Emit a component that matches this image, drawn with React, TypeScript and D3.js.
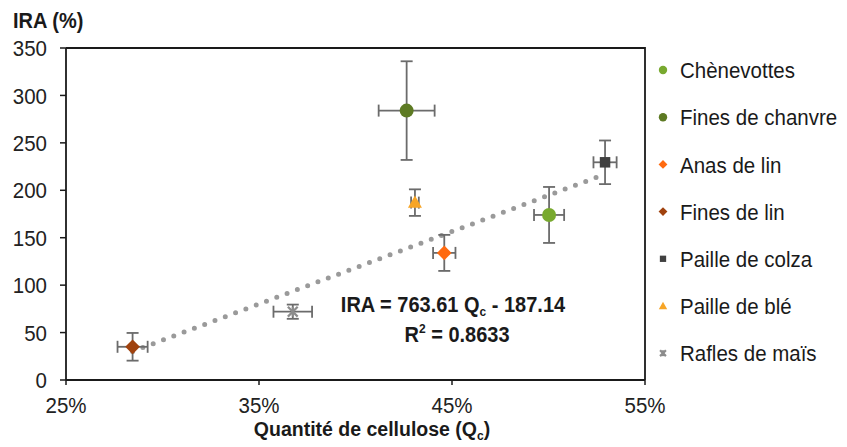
import React from "react";
import * as d3 from "d3";

const seriesNames = ["Chènevottes", "Fines de chanvre", "Anas de lin", "Fines de lin", "Paille de colza", "Paille de blé", "Rafles de maïs"];
const seriesColors = ["#78A92F", "#5D7A23", "#FF6A10", "#A0420E", "#404040", "#F7A526", "#8C8C8C"];
const seriesShapes = ["circle", "circle", "diamond", "diamond", "square", "triangle", "star"];
const qcValues = [0.5003, 0.4265, 0.4460, 0.2845, 0.5293, 0.4308, 0.3675];
const iraValues = [174, 284, 134, 35, 229.5, 187, 72];
const qcErrors = [0.0078, 0.0145, 0.0058, 0.0078, 0.0060, 0.0020, 0.0100];
const iraErrors = [29.5, 52, 19, 14.6, 23, 14, 7.5];
const xTicks = [0.25, 0.35, 0.45, 0.55];
const yTicks = [0, 50, 100, 150, 200, 250, 300, 350];
const slope = 763.61;
const intercept = -187.14;

const W = 847, H = 447;
const FONT = "'Liberation Sans', Arial, sans-serif";
const SY = 1.1;

function T({ x, y, children, sy = SY, ...rest }: any) {
  return (
    <text transform={`translate(${x},${y}) scale(1,${sy})`} {...rest}>
      {children}
    </text>
  );
}

function Marker({ shape, color, cx, cy, s }: { shape: string; color: string; cx: number; cy: number; s: number }) {
  if (shape === "circle") return <circle cx={cx} cy={cy} r={s} fill={color} />;
  if (shape === "diamond") {
    const d = s * 1.05;
    return <path d={`M${cx},${cy - d}L${cx + d},${cy}L${cx},${cy + d}L${cx - d},${cy}Z`} fill={color} />;
  }
  if (shape === "square") {
    const d = s * 0.75;
    return <rect x={cx - d} y={cy - d} width={2 * d} height={2 * d} fill={color} />;
  }
  if (shape === "triangle") {
    const d = s;
    return <path d={`M${cx},${cy - d}L${cx + d},${cy + d * 0.75}L${cx - d},${cy + d * 0.75}Z`} fill={color} />;
  }
  const d = s * 0.7;
  return (
    <g stroke={color} strokeWidth={2.2}>
      <line x1={cx - d} y1={cy - d} x2={cx + d} y2={cy + d} />
      <line x1={cx - d} y1={cy + d} x2={cx + d} y2={cy - d} />
      <line x1={cx} y1={cy - d} x2={cx} y2={cy + d} />
    </g>
  );
}

export default function App() {
  const x = d3.scaleLinear().domain([0.25, 0.55]).range([66, 645]);
  const y = d3.scaleLinear().domain([0, 350]).range([380, 48]);
  const xMin = d3.min(qcValues) as number;
  const xMax = d3.max(qcValues) as number;
  const trend = d3.line<number>().x((d) => x(d)).y((d) => y(slope * d + intercept));
  const errColor = "#6b6b6b";
  const cap = 6;

  return (
    <svg width={W} height={H} style={{ display: "block", position: "absolute", left: 0, top: 0 }} fontFamily={FONT}>
      <rect width={W} height={H} fill="#fff" />
      {/* plot frame */}
      <path d={`M${x(0.25)},${y(350)}H${x(0.55)}V${y(0)}`} fill="none" stroke="#1a1a1a" strokeWidth={1.8} />
      <line x1={x(0.25)} x2={x(0.25)} y1={y(350)} y2={y(0)} stroke="#1a1a1a" strokeWidth={1.8} />
      <line x1={x(0.25)} x2={x(0.55)} y1={y(0)} y2={y(0)} stroke="#1a1a1a" strokeWidth={1.8} />
      {yTicks.map((t) => (
        <g key={"y" + t}>
          <line x1={x(0.25) - 6} x2={x(0.25)} y1={y(t)} y2={y(t)} stroke="#1a1a1a" strokeWidth={1.5} />
          <T x={47} y={y(t)} dy="0.36em" textAnchor="end" fontSize={20.5} fill="#222">{t}</T>
        </g>
      ))}
      {xTicks.map((t) => (
        <g key={"x" + t}>
          <line x1={x(t)} x2={x(t)} y1={y(0)} y2={y(0) + 5} stroke="#1a1a1a" strokeWidth={1.5} />
          <T x={x(t)} y={413} sy={1.05} textAnchor="middle" fontSize={20.5} fill="#222">{d3.format(".0%")(t)}</T>
        </g>
      ))}
      <T x={13} y={28} fontSize={20} fontWeight="bold" fill="#1a1a1a">IRA (%)</T>
      <T x={372} y={436} sy={1} textAnchor="middle" fontSize={19.5} fontWeight="bold" fill="#1a1a1a">
        Quantité de cellulose (Q<tspan fontSize={12} dy={4}>c</tspan><tspan dy={-4}>)</tspan>
      </T>
      {/* trendline */}
      <path d={trend([xMin, xMax]) || ""} fill="none" stroke="#9a9a9a" strokeWidth={5} strokeLinecap="round" strokeDasharray="0 11" />
      {/* error bars */}
      {qcValues.map((q, i) => {
        const cx = x(q), cy = y(iraValues[i]);
        const y1 = y(iraValues[i] + iraErrors[i]), y2 = y(iraValues[i] - iraErrors[i]);
        const x1 = x(q - qcErrors[i]), x2 = x(q + qcErrors[i]);
        return (
          <g key={"e" + i} stroke={errColor} strokeWidth={1.8}>
            <line x1={cx} x2={cx} y1={y1} y2={y2} />
            <line x1={cx - cap} x2={cx + cap} y1={y1} y2={y1} />
            <line x1={cx - cap} x2={cx + cap} y1={y2} y2={y2} />
            <line x1={x1} x2={x2} y1={cy} y2={cy} />
            <line x1={x1} x2={x1} y1={cy - cap} y2={cy + cap} />
            <line x1={x2} x2={x2} y1={cy - cap} y2={cy + cap} />
          </g>
        );
      })}
      {qcValues.map((q, i) => (
        <Marker key={"m" + i} shape={seriesShapes[i]} color={seriesColors[i]} cx={x(q)} cy={y(iraValues[i])} s={7} />
      ))}
      {/* equation */}
      <T x={453} y={312} textAnchor="middle" fontSize={20} fontWeight="bold" fill="#1a1a1a">
        IRA = 763.61 Q<tspan fontSize={12} dy={4}>c</tspan><tspan dy={-4}> - 187.14</tspan>
      </T>
      <T x={457} y={342} textAnchor="middle" fontSize={20} fontWeight="bold" fill="#1a1a1a">
        R<tspan fontSize={12} dy={-8}>2</tspan><tspan dy={8}> = 0.8633</tspan>
      </T>
      {/* legend */}
      {seriesNames.map((n, i) => {
        const cy = 70 + i * 47.2;
        return (
          <g key={"l" + i}>
            <Marker shape={seriesShapes[i]} color={seriesColors[i]} cx={663} cy={cy} s={4.2} />
            <T x={680} y={cy} dy="0.36em" fontSize={20.5} fill="#1a1a1a">{n}</T>
          </g>
        );
      })}
    </svg>
  );
}
